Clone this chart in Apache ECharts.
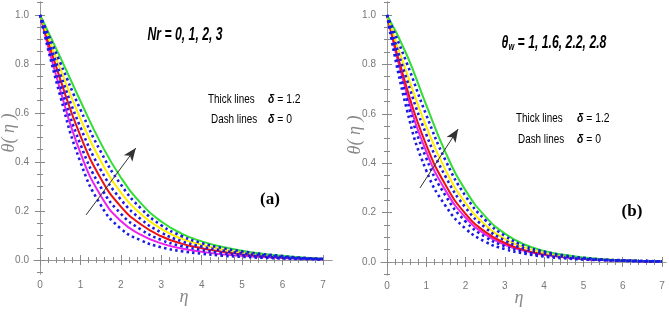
<!DOCTYPE html>
<html><head><meta charset="utf-8">
<script src="https://cdn.jsdelivr.net/npm/echarts@6/dist/echarts.min.js"></script>
<style>html,body{margin:0;padding:0;background:#fff}#c{width:669px;height:316px}</style>
</head><body><div id="c"></div>
<script>
// eta grid (x values)
const eta = [0,0.5,1,1.5,2,2.5,3,3.5,4,4.5,5,5.5,6,6.5,7];
const xTicks = [0,1,2,3,4,5,6,7];
const yTicks = [0,0.2,0.4,0.6,0.8,1.0];

// Panel (a): Nr = 0,1,2,3 ; solid delta=1.2, dashed delta=0
const aMagenta = [1,0.694,0.437,0.263,0.159,0.103,0.068,0.047,0.034,0.023,0.017,0.012,0.008,0.005,0.003];
const aRed     = [1,0.738,0.507,0.334,0.218,0.145,0.097,0.067,0.048,0.034,0.024,0.016,0.011,0.007,0.003];
const aYellow  = [1,0.782,0.577,0.405,0.276,0.187,0.127,0.087,0.062,0.044,0.031,0.021,0.014,0.008,0.004];
const aGreen   = [1,0.828,0.649,0.478,0.337,0.231,0.157,0.108,0.076,0.054,0.038,0.026,0.017,0.010,0.005];
const aDash1   = [1,0.670,0.400,0.225,0.128,0.080,0.052,0.036,0.026,0.018,0.013,0.009,0.006,0.004,0.002];
const aDash2   = [1,0.716,0.472,0.298,0.189,0.124,0.082,0.057,0.041,0.028,0.020,0.014,0.009,0.006,0.003];
const aDash3   = [1,0.760,0.542,0.369,0.247,0.166,0.112,0.077,0.055,0.039,0.027,0.019,0.012,0.007,0.004];
const aDash4   = [1,0.806,0.614,0.443,0.308,0.210,0.142,0.098,0.069,0.049,0.035,0.024,0.016,0.009,0.005];

// Panel (b): theta_w = 1,1.6,2.2,2.8
const bMagenta = [1,0.684,0.447,0.287,0.180,0.112,0.070,0.045,0.029,0.019,0.012,0.008,0.006,0.003,0.002];
const bRed     = [1,0.706,0.473,0.309,0.195,0.122,0.077,0.048,0.031,0.021,0.013,0.009,0.006,0.003,0.002];
const bYellow  = [1,0.767,0.548,0.369,0.239,0.151,0.094,0.059,0.037,0.024,0.015,0.010,0.006,0.004,0.003];
const bGreen   = [1,0.840,0.635,0.440,0.290,0.185,0.115,0.071,0.045,0.029,0.018,0.011,0.007,0.004,0.003];
const bDash1   = [1,0.620,0.370,0.225,0.135,0.082,0.052,0.034,0.022,0.015,0.010,0.007,0.005,0.003,0.002];
const bDash2   = [1,0.662,0.420,0.266,0.164,0.102,0.064,0.041,0.026,0.018,0.012,0.008,0.005,0.003,0.002];
const bDash3   = [1,0.741,0.516,0.343,0.220,0.139,0.087,0.054,0.035,0.023,0.014,0.009,0.006,0.004,0.003];
const bDash4   = [1,0.807,0.595,0.408,0.267,0.170,0.106,0.065,0.042,0.027,0.017,0.010,0.007,0.004,0.003];

// annotation arrows (data coordinates)
const arrowA = [[1.14,0.184],[2.37,0.457]];
const arrowB = [[0.84,0.30],[1.81,0.538]];

const solidColors = ['#ee22ee','#ee1111','#ffee00','#33dd33'];
const dashColor = '#1a1ae6';

// minor tick positions
const xMinor = []; for (let i = 0; i <= 35; i++) { if (i % 5) xMinor.push(+(i*0.2).toFixed(2)); }
const yMinor = []; for (let i = -1; i <= 21; i++) { if (i % 4) yMinor.push(+(i*0.05).toFixed(2)); }

const pairs = (ys) => eta.map((x,i)=>[x, ys[i]]);
const sans = '"Liberation Sans",Arial,sans-serif';
const serif = '"Liberation Serif","Times New Roman",serif';

// panel extents (frame = grid); data ranges extended so 0..7 / 0..1 land where the reference puts them
const ext = {
  a: {x:[-0.148, 7.223], y:[-0.0571, 1.053]},
  b: {x:[-0.153, 7.102], y:[-0.0526, 1.0526]}
};

function xAx(gi, r, pos, vals, len, line, label){
  return {type:'value', gridIndex:gi, position:pos, min:r[0], max:r[1],
    axisLine:{show:line, lineStyle:{color:'#999', width:1}},
    axisTick:{show:true, inside:true, length:len, customValues:vals, lineStyle:{color:'#888'}},
    splitLine:{show:false},
    axisLabel:{show:label, customValues:xTicks, color:'#777', fontSize:10, margin:6, fontFamily:sans}};
}
function yAx(gi, r, pos, vals, len, line, label){
  return {type:'value', gridIndex:gi, position:pos, min:r[0], max:r[1],
    axisLine:{show:line, lineStyle:{color:'#999', width:1}},
    axisTick:{show:true, inside:true, length:len, customValues:vals, lineStyle:{color:'#888'}},
    splitLine:{show:false},
    axisLabel:{show:label, customValues:yTicks, color:'#777', fontSize:10, margin:5, fontFamily:sans, formatter:(v)=>v.toFixed(1)}};
}

function axesFor(gi, e){
  return {
    x:[xAx(gi,e.x,'bottom',xTicks,5,true,true), xAx(gi,e.x,'bottom',xMinor,3,false,false),
       xAx(gi,e.x,'top',xTicks,5,true,false), xAx(gi,e.x,'top',xMinor,3,false,false)],
    y:[yAx(gi,e.y,'left',yTicks,5,true,true), yAx(gi,e.y,'left',yMinor,3,false,false),
       yAx(gi,e.y,'right',yTicks,5,true,false), yAx(gi,e.y,'right',yMinor,3,false,false)]
  };
}
const axA = axesFor(0, ext.a), axB = axesFor(1, ext.b);

function panelSeries(xi, yi, solids, dashes, arrow){
  const s = [];
  solids.forEach((d,k)=>{
    s.push({type:'line', xAxisIndex:xi, yAxisIndex:yi, data:pairs(d), smooth:0.5, showSymbol:false, z:2,
      lineStyle:{color:solidColors[k], width:2}});
  });
  dashes.forEach((d)=>{
    s.push({type:'line', xAxisIndex:xi, yAxisIndex:yi, data:pairs(d), smooth:0.5, showSymbol:false, z:3,
      lineStyle:{color:dashColor, width:2.6, type:[2.5,3.2]}});
  });
  s[0].markLine = {silent:true, symbol:['none','arrow'], symbolSize:[8,13], label:{show:false},
    lineStyle:{color:'#333', width:1, type:'solid'}, emphasis:{disabled:true},
    data:[[{coord:arrow[0]},{coord:arrow[1]}]]};
  return s;
}

function txt(x, y, text, font, align, sx, extra){
  const st = {text:text, font:font, fill:'#000', textAlign:align, textVerticalAlign:'middle'};
  if (extra) Object.assign(st, extra);
  return {type:'text', x:x, y:y, scaleX:sx, style:st, silent:true};
}
const richD = {rich:{d:{font:'italic bold 13px '+sans, fill:'#000'}}};

const chart = echarts.init(document.getElementById('c'), null, {renderer:'canvas'});
chart.setOption({
  animation:false,
  backgroundColor:'#fff',
  grid:[
    {left:34, top:2, width:298, height:272},
    {left:381, top:2, width:285, height:273}
  ],
  xAxis:[...axA.x, ...axB.x],
  yAxis:[...axA.y, ...axB.y],
  series:[
    ...panelSeries(0,0,[aMagenta,aRed,aYellow,aGreen],[aDash1,aDash2,aDash3,aDash4],arrowA),
    ...panelSeries(4,4,[bMagenta,bRed,bYellow,bGreen],[bDash1,bDash2,bDash3,bDash4],arrowB)
  ],
  graphic:[
    // axis names
    {type:'text', x:9, y:133, rotation:Math.PI/2, silent:true, style:{text:'θ( η )', font:'italic 18px '+serif, fill:'#888', textAlign:'center', textVerticalAlign:'middle'}},
    {type:'text', x:184, y:297, silent:true, style:{text:'η', font:'italic 18px '+serif, fill:'#888', textAlign:'center', textVerticalAlign:'middle'}},
    {type:'text', x:355, y:135, rotation:Math.PI/2, silent:true, style:{text:'θ( η )', font:'italic 18px '+serif, fill:'#888', textAlign:'center', textVerticalAlign:'middle'}},
    {type:'text', x:519, y:298, silent:true, style:{text:'η', font:'italic 18px '+serif, fill:'#888', textAlign:'center', textVerticalAlign:'middle'}},
    // panel a annotations
    txt(185, 35, 'Nr = 0, 1, 2, 3', 'italic bold 18px '+sans, 'center', 0.68),
    txt(208, 99, 'Thick lines', '13px '+sans, 'left', 0.76),
    txt(268, 99, '{d|δ} = 1.2', '13px '+sans, 'left', 0.8, richD),
    txt(211, 119, 'Dash lines', '13px '+sans, 'left', 0.76),
    txt(268, 119, '{d|δ} = 0', '13px '+sans, 'left', 0.8, richD),
    txt(270, 200, '(a)', 'bold 17px '+serif, 'center', 1),
    // panel b annotations
    txt(554, 43, 'θ{s|w} = 1, 1.6, 2.2, 2.8', 'italic bold 18px '+sans, 'center', 0.68,
        {rich:{s:{font:'italic bold 11px '+sans, fill:'#000', padding:[8,0,0,0]}}}),
    txt(516, 118, 'Thick lines', '13px '+sans, 'left', 0.76),
    txt(577, 118, '{d|δ} = 1.2', '13px '+sans, 'left', 0.8, richD),
    txt(518, 139, 'Dash lines', '13px '+sans, 'left', 0.76),
    txt(577, 139, '{d|δ} = 0', '13px '+sans, 'left', 0.8, richD),
    txt(632, 212, '(b)', 'bold 17px '+serif, 'center', 1)
  ]
});
</script>
</body></html>
